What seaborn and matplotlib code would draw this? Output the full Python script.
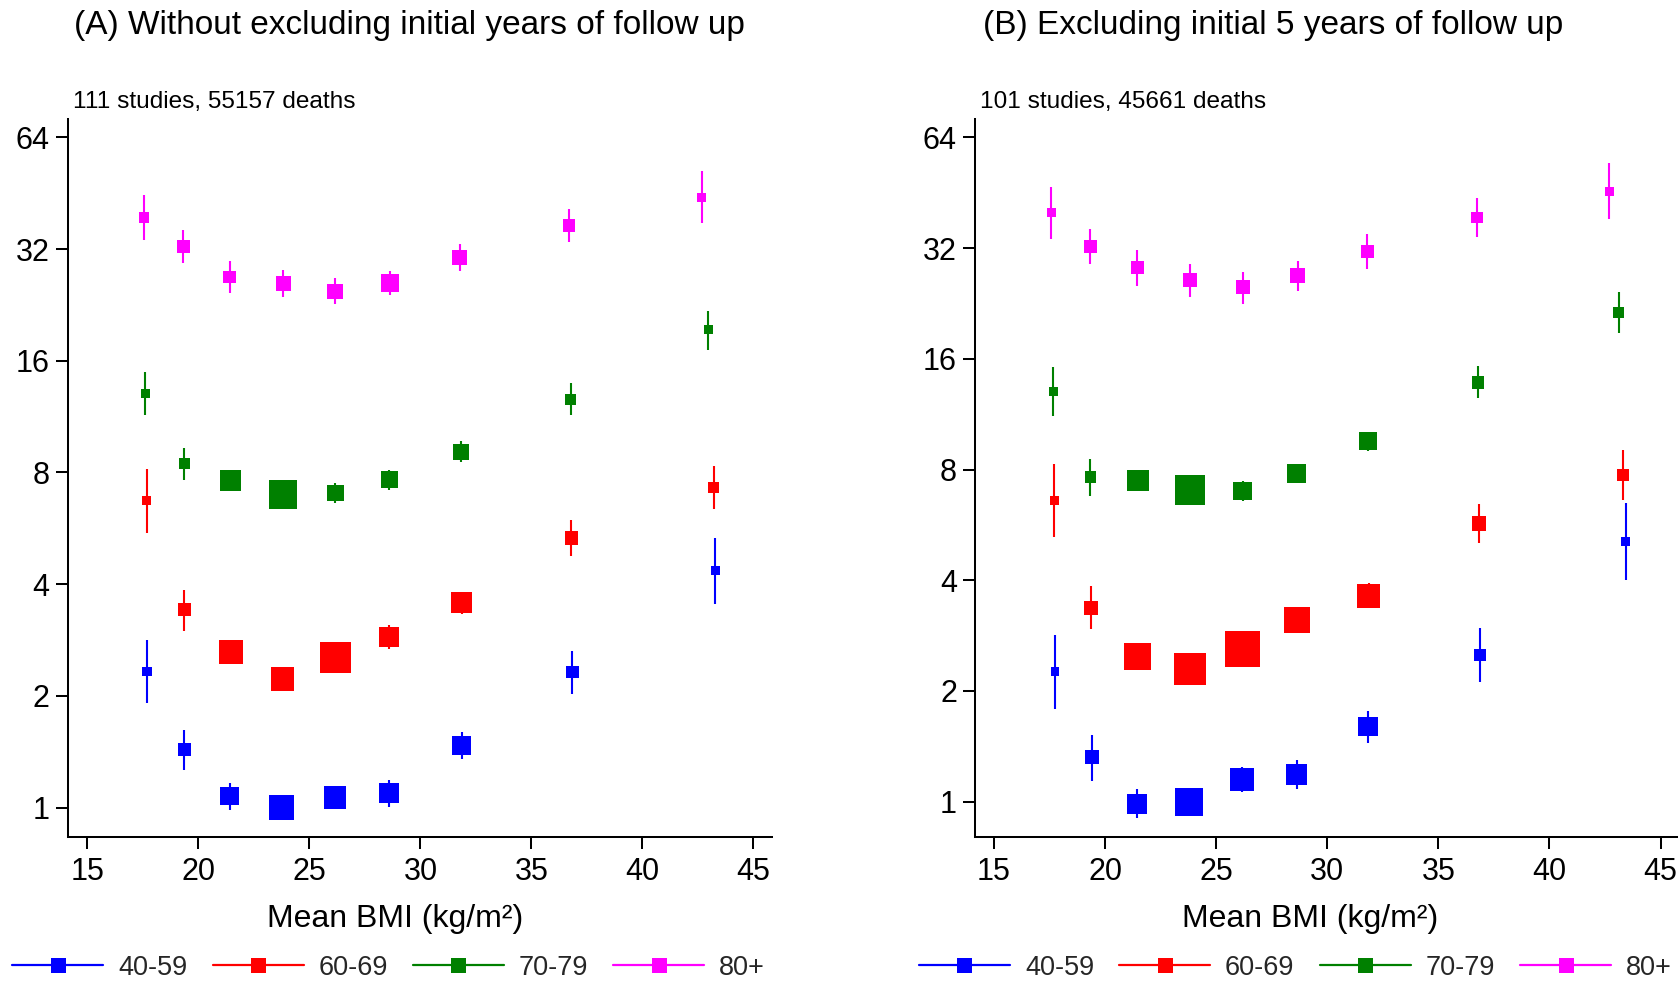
import matplotlib
matplotlib.use("Agg")
import numpy as np
import pandas as pd
import matplotlib.pyplot as plt
import seaborn as sns
from matplotlib.lines import Line2D

sns.set_style("white")
plt.rcParams["font.family"] = ["Liberation Sans", "DejaVu Sans"]

AGE_GROUPS = ["40-59", "60-69", "70-79", "80+"]
COLORS = ["#0000ff", "#ff0000", "#008000", "#ff00ff"]

# ---- (A) all follow-up -------------------------------------------------
A_BMI = [
    [17.68, 19.37, 21.40, 23.74, 26.15, 28.60, 31.85, 36.85, 43.29],
    [17.66, 19.37, 21.46, 23.78, 26.17, 28.60, 31.85, 36.80, 43.22],
    [17.61, 19.35, 21.46, 23.81, 26.17, 28.60, 31.82, 36.78, 42.97],
    [17.55, 19.32, 21.40, 23.81, 26.15, 28.63, 31.78, 36.69, 42.68],
]
A_HR = [
    [2.33, 1.43, 1.075, 1.00, 1.066, 1.095, 1.47, 2.32, 4.35],
    [6.72, 3.42, 2.63, 2.22, 2.54, 2.89, 3.56, 5.33, 7.30],
    [13.03, 8.44, 7.61, 6.98, 7.04, 7.66, 9.11, 12.6, 19.4],
    [38.95, 32.55, 26.86, 25.83, 24.6, 25.9, 30.3, 37.0, 44.1],
]
A_LO = [
    [1.91, 1.26, 0.986, 0.96, 1.02, 1.007, 1.35, 2.03, 3.54],
    [5.51, 3.00, 2.50, 2.12, 2.42, 2.67, 3.32, 4.75, 6.37],
    [11.4, 7.64, 7.35, 6.75, 6.64, 7.17, 8.53, 11.4, 17.1],
    [33.9, 29.4, 24.4, 23.7, 22.7, 24.1, 27.9, 33.5, 37.7],
]
A_HI = [
    [2.83, 1.62, 1.166, 1.04, 1.11, 1.19, 1.60, 2.64, 5.33],
    [8.18, 3.86, 2.76, 2.32, 2.66, 3.11, 3.82, 5.94, 8.33],
    [14.9, 9.32, 7.85, 7.2, 7.49, 8.14, 9.70, 13.9, 21.8],
    [44.8, 36.0, 29.7, 28.1, 26.7, 27.9, 33.0, 41.1, 52.0],
]
# box width ~ statistical weight of each estimate
A_WEIGHT = [
    [9.5, 13, 18.5, 25.5, 22.5, 20, 19, 12.5, 9.5],
    [9, 12.5, 24, 23.5, 30.5, 20, 21, 13.5, 11],
    [9, 11, 21, 28.5, 16.5, 17.5, 16, 11, 9.5],
    [10.5, 12.5, 12.5, 15, 15.5, 17.5, 15, 12.5, 9],
]

# ---- (B) first 5 years of follow-up excluded ----------------------------
B_BMI = [
    [17.75, 19.39, 21.44, 23.78, 26.16, 28.62, 31.84, 36.88, 43.43],
    [17.72, 19.37, 21.46, 23.82, 26.19, 28.62, 31.86, 36.83, 43.31],
    [17.66, 19.34, 21.48, 23.82, 26.19, 28.62, 31.84, 36.79, 43.11],
    [17.57, 19.34, 21.44, 23.82, 26.19, 28.66, 31.79, 36.74, 42.68],
]
B_HR = [
    [2.26, 1.32, 0.988, 1.00, 1.15, 1.184, 1.60, 2.50, 5.10],
    [6.60, 3.36, 2.48, 2.30, 2.60, 3.12, 3.63, 5.70, 7.72],
    [13.07, 7.63, 7.48, 7.04, 6.99, 7.80, 9.55, 13.8, 21.4],
    [40.0, 32.3, 28.3, 26.2, 25.1, 27.0, 31.3, 38.8, 45.6],
]
B_LO = [
    [1.79, 1.14, 0.905, 0.96, 1.065, 1.08, 1.44, 2.11, 4.00],
    [5.25, 2.95, 2.38, 2.18, 2.48, 2.98, 3.36, 5.04, 6.60],
    [11.2, 6.78, 7.2, 6.8, 6.56, 7.55, 8.97, 12.5, 18.8],
    [33.9, 29.0, 25.3, 23.5, 22.6, 24.4, 28.0, 34.3, 38.4],
]
B_HI = [
    [2.84, 1.52, 1.08, 1.05, 1.245, 1.30, 1.76, 2.96, 6.50],
    [8.27, 3.85, 2.58, 2.42, 2.72, 3.26, 3.92, 6.46, 9.03],
    [15.2, 8.52, 7.75, 7.3, 7.44, 8.05, 10.15, 15.3, 24.3],
    [46.8, 36.0, 31.7, 28.9, 27.6, 29.6, 34.9, 43.9, 54.4],
]
B_WEIGHT = [
    [8.5, 14, 20, 28, 23.5, 20.5, 19.5, 12, 9.5],
    [9, 14, 27, 32, 35.5, 26, 23.5, 14.5, 12],
    [9, 11.5, 21.5, 29.5, 18.5, 18.5, 18, 12.5, 10.5],
    [9, 13, 13, 14, 14, 15, 13, 11.5, 9],
]

TITLES = ["(A) Without excluding initial years of follow up",
          "(B) Excluding initial 5 years of follow up"]
SUBTITLES = ["111 studies, 55157 deaths", "101 studies, 45661 deaths"]
Y_TICKS = [1, 2, 4, 8, 16, 32, 64]
X_TICKS = [15, 20, 25, 30, 35, 40, 45]

W, H, DPI = 1679, 984, 100
PX2PT = 72 / DPI
palette = dict(zip(AGE_GROUPS, COLORS))


def long_table(bmi, hr, lo, hi, weight):
    rows = []
    for g, xs, ys, ls, hs, ws in zip(AGE_GROUPS, bmi, hr, lo, hi, weight):
        for x, y, l, h, w in zip(xs, ys, ls, hs, ws):
            rows.append(dict(group=g, bmi=x, hr=y, lo=l, hi=h,
                             area=(w * PX2PT) ** 2))
    return pd.DataFrame(rows)


fig = plt.figure(figsize=(W / DPI, H / DPI), dpi=DPI)

panels = [
    dict(data=(A_BMI, A_HR, A_LO, A_HI, A_WEIGHT), left=67.5, right=772.5,
         xlim=(14.10, 45.86), ylim=(2 ** -0.260, 2 ** 6.161),
         title_x=74, sub_x=73, xlabel_x=395, legend_x=12.3),
    dict(data=(B_BMI, B_HR, B_LO, B_HI, B_WEIGHT), left=975, right=1677,
         xlim=(14.145, 45.74), ylim=(2 ** -0.316, 2 ** 6.163),
         title_x=983, sub_x=980, xlabel_x=1310, legend_x=919),
]

top_px, bottom_px = 119.3, 836.7
tables = [long_table(*p["data"]) for p in panels]
amin = min(t["area"].min() for t in tables)
amax = max(t["area"].max() for t in tables)

for i, (p, df) in enumerate(zip(panels, tables)):
    ax = fig.add_axes([p["left"] / W, 1 - bottom_px / H,
                       (p["right"] - p["left"]) / W, (bottom_px - top_px) / H])
    ax.set_yscale("log", base=2)

    # confidence intervals
    ax.vlines(df["bmi"], df["lo"], df["hi"],
              colors=df["group"].map(palette), linewidth=1.5, zorder=2)
    # weighted square markers
    sns.scatterplot(data=df, x="bmi", y="hr", hue="group", palette=palette,
                    size="area", sizes=(amin, amax), size_norm=(amin, amax),
                    marker="s", linewidth=0, legend=False, ax=ax, zorder=3)

    ax.set_xlim(*p["xlim"])
    ax.set_ylim(*p["ylim"])
    ax.set_xticks(X_TICKS)
    ax.set_xticklabels([str(t) for t in X_TICKS])
    ax.set_yticks(Y_TICKS)
    ax.set_yticklabels([str(t) for t in Y_TICKS])
    ax.minorticks_off()
    ax.set_ylabel("")

    for side in ("top", "right"):
        ax.spines[side].set_visible(False)
    for side in ("left", "bottom"):
        ax.spines[side].set_color("black")
        ax.spines[side].set_linewidth(1.45)
    ax.tick_params(axis="both", which="major", direction="out", length=8.5,
                   width=1.45, color="black", labelsize=22, labelcolor="black",
                   left=True, bottom=True)
    ax.tick_params(axis="y", pad=4.5)
    ax.tick_params(axis="x", pad=6)

    ax.set_xlabel("Mean BMI (kg/m\u00b2)", fontsize=23, color="black")
    ax.xaxis.label.set_va("baseline")
    ax.xaxis.set_label_coords((p["xlabel_x"] - p["left"]) / (p["right"] - p["left"]),
                              (bottom_px - 926.7) / (bottom_px - top_px))

    fig.text(p["title_x"] / W, 1 - 34 / H, TITLES[i], fontsize=24,
             va="baseline", ha="left", color="black")
    fig.text(p["sub_x"] / W, 1 - 108.3 / H, SUBTITLES[i], fontsize=17.6,
             va="baseline", ha="left", color="black")

    handles = [Line2D([], [], color=c, lw=1.6, marker="s", markersize=15 * PX2PT,
                      markeredgewidth=0) for c in COLORS]
    fig.legend(handles, AGE_GROUPS, loc="center left",
               bbox_to_anchor=(p["legend_x"] / W, 1 - 967.7 / H), ncol=4,
               frameon=False, fontsize=19.5, handlelength=3.36,
               handletextpad=0.55, columnspacing=0.93, borderpad=0,
               borderaxespad=0)

fig.savefig("out.png", dpi=DPI, facecolor="white")
